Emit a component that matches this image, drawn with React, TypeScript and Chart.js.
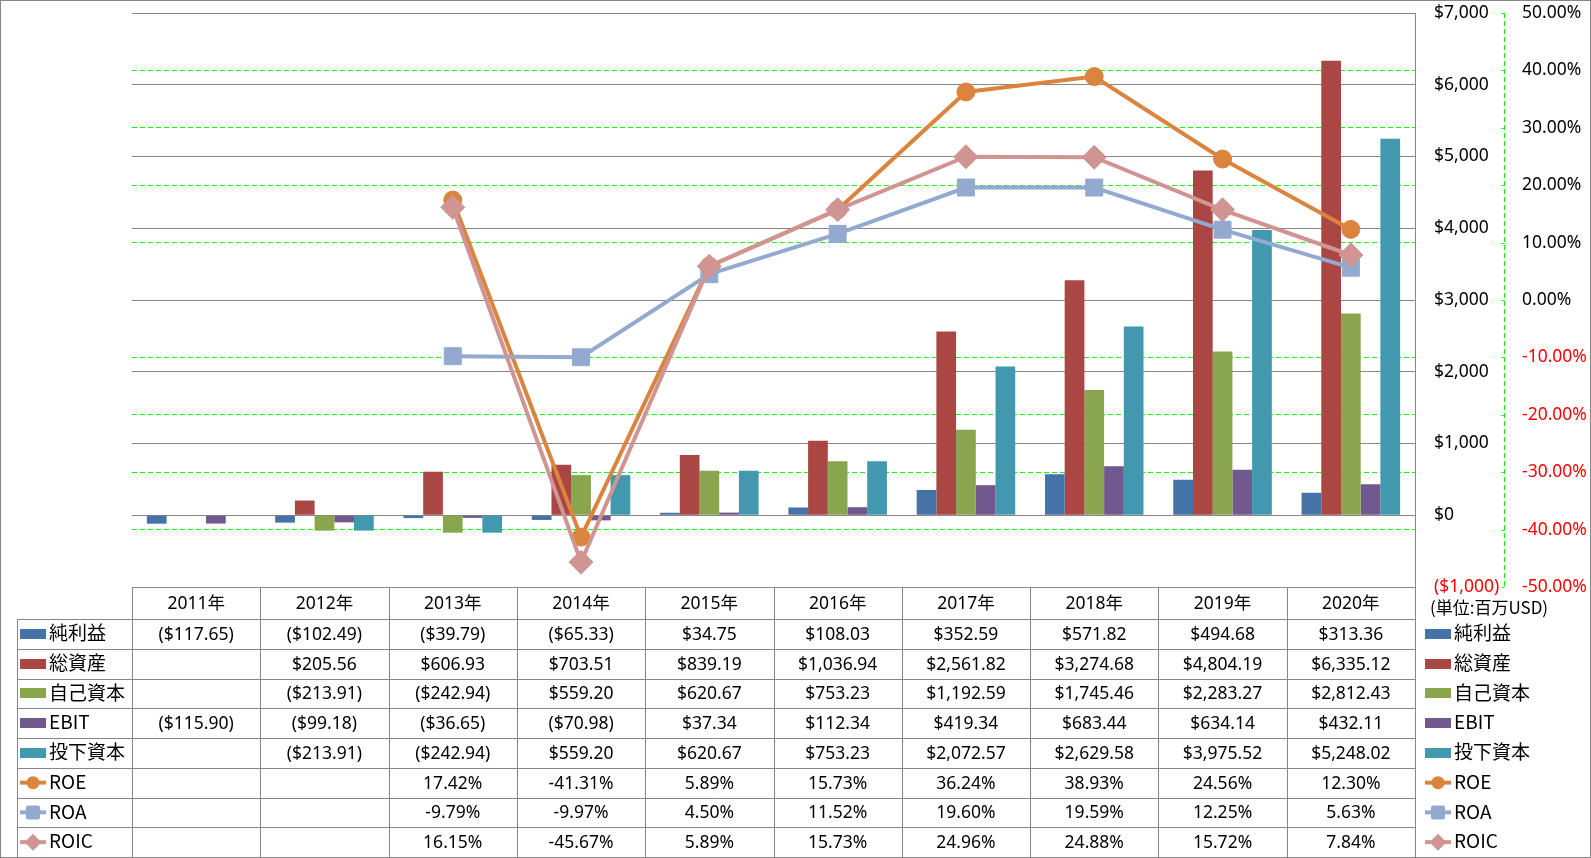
import React, { useEffect, useRef } from 'react';
import { Chart, registerables } from 'chart.js';

Chart.register(...registerables);

// ---------- data ----------
const years = ['2011年', '2012年', '2013年', '2014年', '2015年', '2016年', '2017年', '2018年', '2019年', '2020年'];
const netIncome = [-117.65, -102.49, -39.79, -65.33, 34.75, 108.03, 352.59, 571.82, 494.68, 313.36];
const totalAssets = [null, 205.56, 606.93, 703.51, 839.19, 1036.94, 2561.82, 3274.68, 4804.19, 6335.12];
const equity = [null, -213.91, -242.94, 559.2, 620.67, 753.23, 1192.59, 1745.46, 2283.27, 2812.43];
const ebit = [-115.9, -99.18, -36.65, -70.98, 37.34, 112.34, 419.34, 683.44, 634.14, 432.11];
const investedCapital = [null, -213.91, -242.94, 559.2, 620.67, 753.23, 2072.57, 2629.58, 3975.52, 5248.02];
const roe = [null, null, 17.42, -41.31, 5.89, 15.73, 36.24, 38.93, 24.56, 12.3];
const roa = [null, null, -9.79, -9.97, 4.5, 11.52, 19.6, 19.59, 12.25, 5.63];
const roic = [null, null, 16.15, -45.67, 5.89, 15.73, 24.96, 24.88, 15.72, 7.84];

const seriesNames = ['純利益', '総資産', '自己資本', 'EBIT', '投下資本', 'ROE', 'ROA', 'ROIC'];
const unitLabel = '(単位:百万USD)';

const dollarMin = -1000;
const dollarMax = 7000;
const dollarStep = 1000;
const pctMin = -50;
const pctMax = 50;
const pctStep = 10;

// ---------- styles ----------
const FONT = '"Noto Sans", "Noto Sans CJK JP", sans-serif';
const CJK = '"Noto Sans CJK JP", "Noto Sans", sans-serif';
const colors = ['#4572A7', '#AA4643', '#89A54E', '#71588F', '#4198AF', '#DB843D', '#93A9CF', '#D09493'];
const GRID = '#878787';
const GREEN = '#00FF00';

type N = number | null;

const fmtMoney = (v: N) => {
  if (v == null) return '';
  const s = Math.abs(v).toLocaleString('en-US', { minimumFractionDigits: 2, maximumFractionDigits: 2 });
  return v < 0 ? `($${s})` : `$${s}`;
};
const fmtPct = (v: N) => (v == null ? '' : `${v.toFixed(2)}%`);

const barSeries: N[][] = [netIncome, totalAssets, equity, ebit, investedCapital];
const lineSeries: N[][] = [roe, roa, roic];
const pointStyles = ['circle', 'rect', 'rectRot'];

function drawKey(ctx: CanvasRenderingContext2D, idx: number, x: number, cy: number) {
  const c = colors[idx];
  ctx.save();
  if (idx < 5) {
    ctx.fillStyle = c;
    ctx.fillRect(x, Math.round(cy) - 5, 26, 10);
  } else {
    ctx.strokeStyle = c;
    ctx.lineWidth = 4;
    ctx.beginPath();
    ctx.moveTo(x, cy);
    ctx.lineTo(x + 26, cy);
    ctx.stroke();
    ctx.fillStyle = c;
    const mx = x + 13;
    const k = idx - 5;
    ctx.beginPath();
    if (k === 0) {
      ctx.arc(mx, cy, 6.5, 0, Math.PI * 2);
    } else if (k === 1) {
      ctx.roundRect(mx - 7, cy - 7, 14, 14, 2);
    } else {
      ctx.moveTo(mx, cy - 8.5);
      ctx.lineTo(mx + 8.5, cy);
      ctx.lineTo(mx, cy + 8.5);
      ctx.lineTo(mx - 8.5, cy);
      ctx.closePath();
    }
    ctx.fill();
  }
  ctx.restore();
}

const tablePlugin = {
  id: 'dataTable',
  afterDraw(chart: any) {
    const { ctx, chartArea } = chart;
    const xs = chart.scales.x;
    const y1 = chart.scales.y1;
    const n = years.length;
    const left = chartArea.left;
    const right = chartArea.right;
    const colW = (right - left) / n;
    const top = chartArea.bottom;
    const headerBottom = top + 32;
    const bottom = chart.height - 1;
    const rowH = (bottom - headerBottom) / seriesNames.length;
    const tableLeft = 17;
    const px = (v: number) => Math.round(v) + 0.5;

    ctx.save();
    // secondary axis dashed line + ticks
    ctx.strokeStyle = GREEN;
    ctx.lineWidth = 1;
    ctx.setLineDash([5, 3]);
    ctx.beginPath();
    ctx.moveTo(px(y1.left), chartArea.top);
    ctx.lineTo(px(y1.left), chartArea.bottom);
    ctx.stroke();
    ctx.setLineDash([]);
    for (let v = pctMin; v <= pctMax; v += pctStep) {
      const yy = px(y1.getPixelForValue(v));
      ctx.beginPath();
      ctx.moveTo(px(y1.left) - 3, yy);
      ctx.lineTo(px(y1.left), yy);
      ctx.stroke();
    }

    // table grid
    ctx.strokeStyle = GRID;
    ctx.lineWidth = 1;
    ctx.beginPath();
    for (let i = 0; i <= n; i++) {
      const xx = px(left + i * colW);
      ctx.moveTo(xx, px(top));
      ctx.lineTo(xx, bottom);
    }
    ctx.moveTo(px(left), px(top));
    ctx.lineTo(px(right), px(top));
    for (let r = 0; r <= seriesNames.length; r++) {
      const yy = px(headerBottom + r * rowH);
      ctx.moveTo(px(tableLeft), yy);
      ctx.lineTo(px(right), yy);
    }
    ctx.moveTo(px(tableLeft), px(headerBottom));
    ctx.lineTo(px(tableLeft), bottom);
    ctx.stroke();

    // header text
    ctx.fillStyle = '#000';
    ctx.textBaseline = 'middle';
    ctx.textAlign = 'center';
    ctx.font = `17.5px ${FONT}`;
    for (let i = 0; i < n; i++) {
      const cx = xs.getPixelForValue(i);
      ctx.fillText(years[i], cx, (top + headerBottom) / 2 + 1);
    }
    // body
    const allSeries: N[][] = [...barSeries, ...lineSeries];
    for (let r = 0; r < allSeries.length; r++) {
      const cy = headerBottom + r * rowH + rowH / 2 + 1;
      const fmt = r < 5 ? fmtMoney : fmtPct;
      ctx.textAlign = 'center';
      ctx.font = `17.5px ${FONT}`;
      for (let i = 0; i < n; i++) {
        const t = fmt(allSeries[r][i]);
        if (t) ctx.fillText(t, xs.getPixelForValue(i), cy);
      }
      // left legend
      drawKey(ctx, r, 20, cy - 1);
      ctx.textAlign = 'left';
      ctx.font = `19px ${CJK}`;
      ctx.fillText(seriesNames[r], 49, cy - 2);
      // right legend
      drawKey(ctx, r, 1425, cy - 1);
      ctx.fillText(seriesNames[r], 1454, cy - 2);
    }
    // unit label
    ctx.font = `17px ${CJK}`;
    ctx.textAlign = 'left';
    ctx.fillText(unitLabel, 1430, 608);

    // outer border
    ctx.strokeStyle = GRID;
    ctx.strokeRect(0.5, 0.5, chart.width - 1, chart.height - 1);
    ctx.restore();
  },
};

export default function App() {
  const ref = useRef<HTMLCanvasElement>(null);
  useEffect(() => {
    if (!ref.current) return;
    const barDatasets = barSeries.map((d, i) => ({
      type: 'bar' as const,
      label: seriesNames[i],
      data: d,
      backgroundColor: colors[i],
      borderWidth: 0,
      yAxisID: 'y',
      categoryPercentage: 0.768,
      barPercentage: 1,
      order: 10,
    }));
    const lineDatasets = lineSeries.map((d, k) => ({
      type: 'line' as const,
      label: seriesNames[5 + k],
      data: d,
      borderColor: colors[5 + k],
      backgroundColor: colors[5 + k],
      borderWidth: 4,
      pointStyle: pointStyles[k],
      pointRadius: k === 0 ? 9 : 12,
      pointBorderWidth: 1,
      pointBorderColor: colors[5 + k],
      pointBackgroundColor: colors[5 + k],
      tension: 0,
      yAxisID: 'y1',
      order: 3 - k,
    }));
    const chart = new Chart(ref.current, {
      type: 'bar',
      data: { labels: years, datasets: [...barDatasets, ...lineDatasets] as any },
      options: {
        animation: false,
        responsive: false,
        maintainAspectRatio: false,
        layout: { padding: { left: 132, top: 13, bottom: 271, right: 0 } },
        plugins: { legend: { display: false }, tooltip: { enabled: false } },
        scales: {
          x: { display: false, offset: true, grid: { display: false } },
          y: {
            type: 'linear',
            position: 'right',
            min: dollarMin,
            max: dollarMax,
            weight: 0,
            ticks: {
              stepSize: dollarStep,
              padding: 0,
              font: { size: 17.5, family: FONT },
              color: (c: any) => (c.tick && c.tick.value < 0 ? '#FF0000' : '#000000'),
              callback: (v: any) =>
                v < 0 ? `($${Math.abs(v).toLocaleString('en-US')})` : `$${Number(v).toLocaleString('en-US')}`,
            },
            grid: { color: GRID, drawTicks: true, tickLength: 19, tickColor: 'rgba(0,0,0,0)', z: -1 },
            border: { color: GRID },
            afterFit: (s: any) => {
              s.width = 89;
            },
          },
          y1: {
            type: 'linear',
            position: 'right',
            min: pctMin,
            max: pctMax,
            weight: 1,
            ticks: {
              stepSize: pctStep,
              padding: 0,
              font: { size: 17.5, family: FONT },
              color: (c: any) => (c.tick && c.tick.value < 0 ? '#FF0000' : '#000000'),
              callback: (v: any) => `${Number(v).toFixed(2)}%`,
            },
            grid: {
              color: GREEN,
              drawTicks: true,
              tickLength: 18,
              tickColor: 'rgba(0,0,0,0)',
              z: -2,
            },
            border: { display: false, dash: [5, 3] },
            afterFit: (s: any) => {
              s.width = 87;
            },
          },
        },
      } as any,
      plugins: [tablePlugin],
    });
    return () => chart.destroy();
  }, []);
  return (
    <div style={{ position: 'fixed', left: 0, top: 0, width: 1591, height: 858, background: '#fff' }}>
      <canvas ref={ref} width={1591} height={858} style={{ display: 'block', width: 1591, height: 858 }} />
    </div>
  );
}
